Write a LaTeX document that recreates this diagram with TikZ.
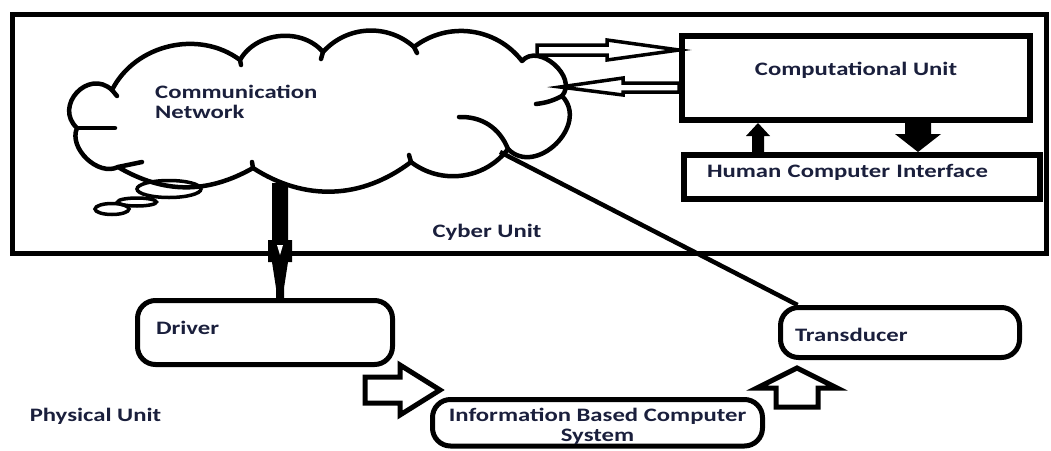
\documentclass[tikz,border=0pt]{standalone}
\usepackage{fontspec}
\setmainfont{Carlito}[FakeStretch=1.3]
\usetikzlibrary{calc,positioning}
\definecolor{labelnavy}{HTML}{1A1F3C}

\begin{document}
\begin{tikzpicture}[x=1pt,y=-1pt,
    every node/.style={font=\fontsize{19}{20}\selectfont\bfseries,text=labelnavy},
    unitbox/.style={draw=black,line width=6pt,inner sep=0pt},
    roundbox/.style={draw=black,line width=5pt,rounded corners=18pt,inner sep=0pt},
    hollowarrow/.style={draw,fill=white,line width=4pt,line join=miter},
    fullarrow/.style={fill=black},
    cloudline/.style={line width=4.5pt,line cap=round,line join=round},
    bubble/.style={line width=3.5pt}]
  \useasboundingbox (0,0) rectangle (1051,450);

  % cyber unit frame
  \draw[line width=5pt] (12.5,14.5) rectangle (1046.5,253.5);

  % cloud
  \coordinate (j1) at (112,90);
  \coordinate (j2) at (240,60);
  \coordinate (j3) at (323,52);
  \coordinate (j4) at (414,47);
  \coordinate (j5) at (522,61);
  \coordinate (j6) at (562,96);
  \coordinate (j7) at (508,149);
  \coordinate (j8) at (411,162);
  \coordinate (j9) at (253,168);
  \coordinate (j10) at (118,167);
  \coordinate (j11) at (77,128);
  \draw[cloudline] (j1) to[bend left=50] (j2) to[bend left=55] (j3)
    to[bend left=45] (j4) to[bend left=45] (j5)
    to[bend left=90,looseness=1.2] (j6) to[bend left=90,looseness=1.35] (j7)
    to[bend left=45] (j8) to[bend left=35] (j9) to[bend left=30] (j10)
    to[bend left=70] (j11) to[bend left=90,looseness=1.6] (j1);
  \draw[cloudline] (j1) -- ++(5,6);
  \draw[cloudline] (j2) -- ++(1,5);
  \draw[cloudline] (j3) -- ++(-2,7);
  \draw[cloudline] (j4) -- ++(3,6);
  \draw[cloudline] (j6) to[bend left=10] (536,104);
  \draw[cloudline] (j7) to[bend right=35] (459,117);
  \draw[cloudline] (j8) -- ++(-2,-7);
  \draw[cloudline] (j9) -- ++(-1,-6);
  \draw[cloudline] (j10) -- ++(24,-5);
  \draw[cloudline] (j11) -- ++(38,0);
  \draw[bubble] (169,189) ellipse (32pt and 8.5pt);
  \draw[bubble] (137,202) ellipse (19.5pt and 4pt);
  \draw[bubble] (112,209) ellipse (17pt and 5.5pt);
  \coordinate (cloudbot) at (280,183);
  \coordinate (cloudrt) at (500,152);
  \coordinate (cloudtip) at (560,87);

  \node[anchor=north west,align=left,inner sep=0pt] (netlbl) at (155,85) {Communication\\Network};

  % units
  \node[unitbox,minimum width=348pt,minimum height=84pt,text depth=18pt] (comp) at (856,78) {Computational Unit};
  \node[unitbox,minimum width=356pt,minimum height=44pt,text width=310pt,align=left,text depth=12pt] (hci) at (862,177) {Human Computer Interface};
  \node (cyberlbl) at (487,232) {Cyber Unit};

  \node[roundbox,minimum width=255pt,minimum height=64pt,text width=218pt,align=left,text depth=9pt] (driver) at (265,332.5) {Driver};
  \node[roundbox,minimum width=239pt,minimum height=50pt,text width=210pt,align=left,text height=19pt] (transducer) at (900,332.5) {Transducer};
  \node[roundbox,minimum width=330pt,minimum height=46.5pt,align=center,text height=40pt] (ibcs) at (597.5,422.75) {Information Based Computer\\System};
  \node (physlbl) at (95.5,416) {Physical Unit};

  % connectors
  \draw[hollowarrow,line width=3.5pt] ($(comp.north west)+(0,17)$) -- ++(-72,-10) -- ++(0,5) -- ++(-70,0)
    -- ++(0,10) -- ++(70,0) -- ++(0,5) -- cycle;
  \draw[hollowarrow,line width=3.5pt] (cloudtip) -- ++(63,-9) -- ++(0,5) -- ($(comp.north west)+(0,50)$)
    -- ++(0,9) -- ++(-56,0) -- ++(0,3) -- cycle;
  \fill[fullarrow] ($(comp.south west)+(79,0)$) -- ++(12,13) -- ++(-6,0) -- (hci.north -| 764,0)
    -- (hci.north -| 752,0) -- ++(0,-16) -- ++(-6,0) -- cycle;
  \fill[fullarrow] ($(hci.north west)+(237,0)$) -- ++(23,-18) -- ++(-10,0) -- (comp.south -| 931,0)
    -- (comp.south -| 905,0) -- ++(0,11) -- ++(-10,0) -- cycle;

  \fill[fullarrow] ($(cloudbot)+(-8,0)$) -- ++(16,0) -- ++(0,57) -- ++(4,0) -- ++(0,22) -- ++(-4,0)
    -- ($(driver.north -| cloudbot)+(4,-10)$) -- ++(0,10) -- ++(-8,0) -- ++(0,-10)
    -- ($(cloudbot)+(-8,79)$) -- ++(-4,0) -- ++(0,-22) -- ++(4,0) -- cycle;
  \fill[white] ($(cloudbot)+(-3,62)$) -- ++(6,0) -- ++(-3,10) -- cycle;

  \draw[line width=4.5pt] (cloudrt) -- ($(transducer.north west)!0.08!(transducer.north east)$);

  \draw[hollowarrow,line width=5pt] ($(ibcs.north west)+(10,-7)$) -- ++(-40,-25) -- ++(0,12) -- ++(-35,0)
    -- ++(0,26) -- ++(35,0) -- ++(0,12) -- cycle;
  \draw[hollowarrow,line width=5pt] ($(transducer.south west)+(19,8)$) -- ++(40,20) -- ++(-19,0) -- ++(0,19)
    -- ++(-42,0) -- ++(0,-19) -- ++(-19,0) -- cycle;
\end{tikzpicture}
\end{document}
